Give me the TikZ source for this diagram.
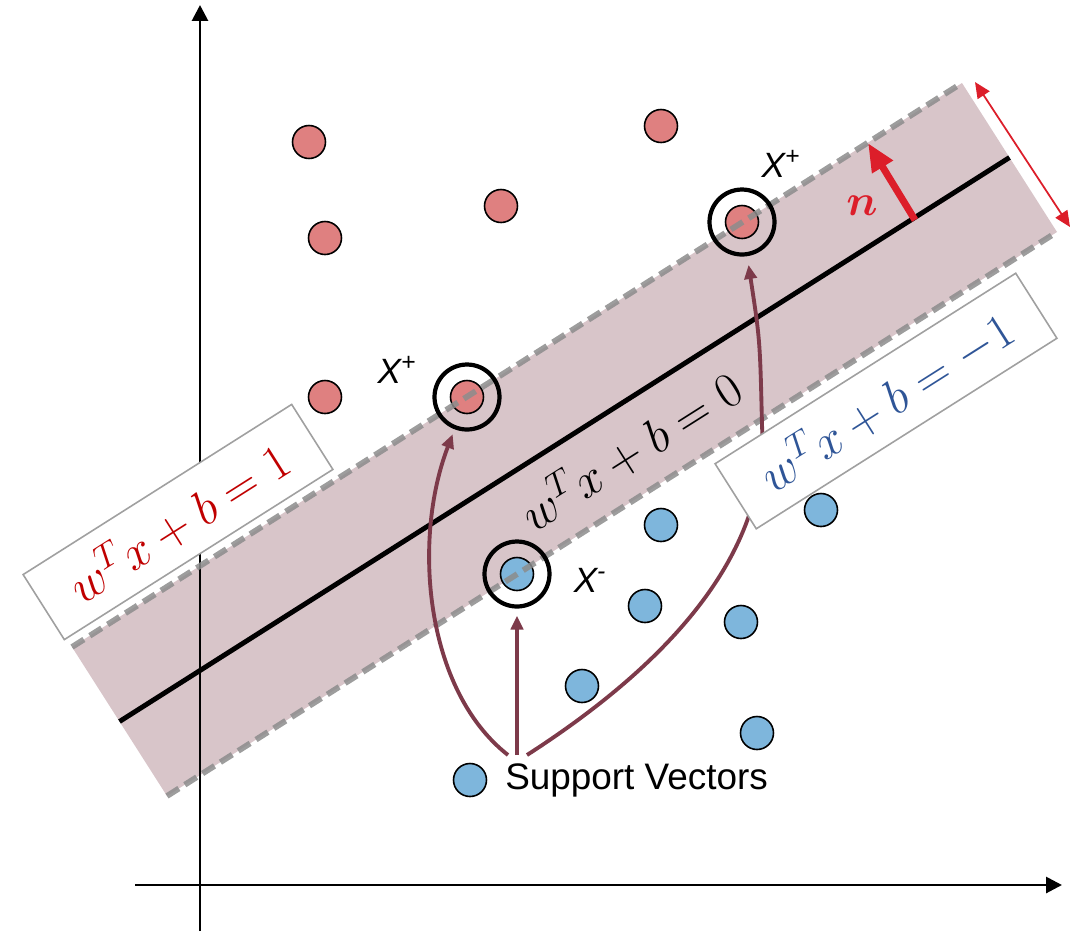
\documentclass[tikz,border=0pt]{standalone}
\usepackage{fix-cm}
\usepackage{amsmath}
\usepackage{fontspec}
\setsansfont{Liberation Sans}
\usetikzlibrary{arrows.meta, positioning, calc}
\definecolor{cdotred}{HTML}{DF8080}
\definecolor{cdotblue}{HTML}{7EB6DC}
\definecolor{cband}{HTML}{D8C5C9}
\definecolor{cdash}{HTML}{8C8C8C}
\definecolor{cmaroon}{HTML}{7D3A4A}
\definecolor{cred}{HTML}{DC1E2A}
\definecolor{ceqred}{HTML}{C00000}
\definecolor{ceqblue}{HTML}{2F5597}
\definecolor{cframe}{HTML}{A0A0A0}
\tikzset{
  every picture/.style={x=0.02cm, y=-0.02cm, line width=1.1pt},
  posdot/.style={circle, draw=black, fill=cdotred, line width=0.9pt, minimum size=0.66cm, inner sep=0pt},
  negdot/.style={posdot, fill=cdotblue},
  ring/.style={circle, draw=black, line width=2.4pt, minimum size=1.3cm, inner sep=0pt},
  axis/.style={-{Triangle[length=9pt, width=9pt]}, line width=1.6pt},
  margin/.style={draw=cdash, dash pattern=on 8pt off 4pt, line width=3.3pt, opacity=0.85},
  pointer/.style={-{Triangle[length=8pt, width=7pt]}, draw=cmaroon, line width=2.2pt},
  eqbox/.style={draw=cframe, fill=white, line width=0.9pt, rotate=32.36, minimum height=1.54cm, inner sep=0pt, font=\fontsize{28}{30}\selectfont},
  svlabel/.style={font=\sffamily\itshape\fontsize{20}{22}\selectfont},
}

\begin{document}
\begin{tikzpicture}
  \useasboundingbox (0,0) rectangle (1079,931);
  \coordinate (ul) at (72,647);
  \coordinate (ur) at (962,83);
  \coordinate (lr) at (1057,232);
  \coordinate (ll) at (167,796);
  \fill[cband] (ul) -- (ur) -- (lr) -- (ll) -- cycle;
  \coordinate (yo) at (200,931); \coordinate (yt) at (200,5);
  \coordinate (xo) at (135,885); \coordinate (xt) at (1062,885);
  \draw[axis] (yo) -- (yt);
  \draw[axis] (xo) -- (xt);
  \draw[line width=2.8pt] ($(ul)!0.5!(ll)$) -- ($(ur)!0.5!(lr)$);
  \node[posdot] (p1) at (309,142) {};
  \node[posdot] (p2) at (661,126) {};
  \node[posdot] (p3) at (501,206) {};
  \node[posdot] (p4) at (325,238) {};
  \node[posdot] (p5) at (325,397) {};
  \node[posdot] (sa) at (467,397) {};
  \node[posdot] (sb) at (742,222) {};
  \node[negdot] (n1) at (661,525) {};
  \node[negdot] (n2) at (821,510) {};
  \node[negdot] (n3) at (645,606) {};
  \node[negdot] (n4) at (741,622) {};
  \node[negdot] (n5) at (582,686) {};
  \node[negdot] (n6) at (757,733) {};
  \node[negdot] (sc) at (517,574) {};
  \draw[margin] (ul) -- (ur);
  \draw[margin] (ll) -- (lr);
  \node[ring] (ra) at (sa) {};
  \node[ring] (rb) at (sb) {};
  \node[ring] (rc) at (sc) {};
  \node[svlabel] (xa) at (397,370) {X\textsuperscript{+}};
  \node[svlabel] (xb) at (781,164) {X\textsuperscript{+}};
  \node[svlabel] (xc) at (590,580) {X\textsuperscript{-}};
  \coordinate (nbase) at (915,220); \coordinate (ntip) at (868,143);
  \draw[-{Triangle[length=16pt, width=13pt]}, draw=cred, line width=4pt] (nbase) -- (ntip);
  \node[text=cred, font=\fontsize{25}{28}\selectfont] (nlabel) at (862,206) {$\boldsymbol{n}$};
  \coordinate (wa) at (975,82); \coordinate (wb) at (1070,227);
  \draw[{Triangle[length=9pt, width=8pt]}-{Triangle[length=9pt, width=8pt]}, draw=cred, line width=1pt] (wa) -- (wb);
  \coordinate (sv) at (517,755);
  \draw[pointer, shorten >=3pt] ($(sv)+(-9,0)$) .. controls (425,690) and (412,540) .. (ra);
  \draw[pointer, shorten >=4pt] (sv) -- (rc);
  \draw[pointer, shorten >=5pt] ($(sv)+(10,0)$) .. controls (690,650) and (768,540) .. (762,425) .. controls (760,340) .. (rb);
  \node[eqbox, text=ceqred, minimum width=6.36cm] (eqpos) at (178,522) {$w^Tx+b=1$};
  \node[eqbox, text=ceqblue, minimum width=7.12cm] (eqneg) at (886,401) {$w^Tx+b=-1$};
  \node[rotate=32.36, font=\fontsize{28}{30}\selectfont] (eqmid) at (630,450) {$w^Tx+b=0$};
  \node[negdot] (legdot) at (470,780) {};
  \node[right=0.34cm of legdot, inner sep=0pt, font=\sffamily\fontsize{21}{24}\selectfont] (legend) {Support Vectors};
\end{tikzpicture}
\end{document}
